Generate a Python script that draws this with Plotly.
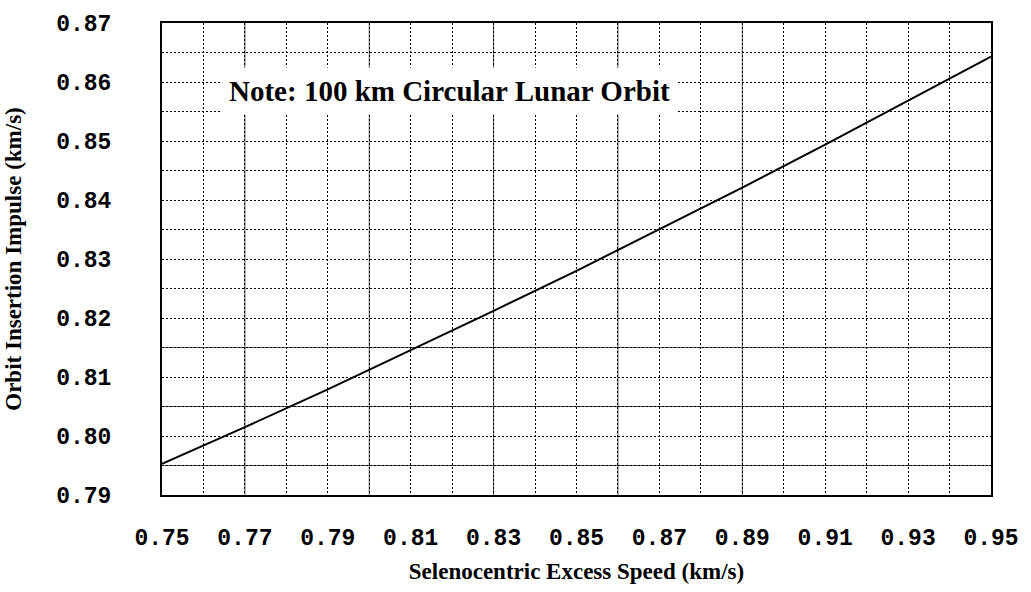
import plotly.graph_objects as go

# Data
speed = [0.75, 0.77, 0.79, 0.81, 0.83, 0.85, 0.87, 0.89, 0.91, 0.93, 0.95]
impulse = [0.7953, 0.8015, 0.8079, 0.8145, 0.8212, 0.8280, 0.8350, 0.8421, 0.8494, 0.8568, 0.8643]

x_ticks = [0.75, 0.77, 0.79, 0.81, 0.83, 0.85, 0.87, 0.89, 0.91, 0.93, 0.95]
x_labels = ["0.75", "0.77", "0.79", "0.81", "0.83", "0.85", "0.87", "0.89", "0.91", "0.93", "0.95"]
y_ticks = [0.79, 0.80, 0.81, 0.82, 0.83, 0.84, 0.85, 0.86, 0.87]
y_labels = ["0.79", "0.80", "0.81", "0.82", "0.83", "0.84", "0.85", "0.86", "0.87"]
x_grid = [round(0.75 + 0.01 * i, 2) for i in range(21)]
y_grid = [round(0.79 + 0.005 * i, 3) for i in range(17)]
solid_x = [0.77, 0.80, 0.83, 0.86, 0.89]
solid_y = [0.795, 0.805, 0.815]

note_text = "Note: 100 km Circular Lunar Orbit"
x_title = "Selenocentric Excess Speed (km/s)"
y_title = "Orbit Insertion Impulse (km/s)"

fig = go.Figure()
fig.add_trace(go.Scatter(x=speed, y=impulse, mode="lines",
                         line=dict(color="black", width=2), showlegend=False,
                         hoverinfo="skip"))

tick_font = dict(family="Liberation Mono", size=23, color="black", weight="bold")
title_font = dict(family="Liberation Serif", size=23, color="black", weight="bold")

fig.update_xaxes(
    range=[0.75, 0.95], tickmode="array", tickvals=x_ticks, ticktext=x_labels,
    tickfont=tick_font, ticks="", ticklabelstandoff=20,
    showgrid=True, gridcolor="black", gridwidth=1, griddash="2px,2px",
    minor=dict(tickvals=x_grid, showgrid=True, gridcolor="black", gridwidth=1,
               griddash="2px,2px", ticks=""),
    showline=True, linecolor="black", linewidth=2, mirror=True, zeroline=False,
    title=dict(text=x_title, font=title_font, standoff=12),
)
fig.update_yaxes(
    range=[0.79, 0.87], tickmode="array", tickvals=y_ticks, ticktext=y_labels,
    tickfont=tick_font, ticks="", ticklabelstandoff=44,
    showgrid=True, gridcolor="black", gridwidth=1, griddash="2px,2px",
    minor=dict(tickvals=y_grid, showgrid=True, gridcolor="black", gridwidth=1,
               griddash="2px,2px", ticks=""),
    showline=True, linecolor="black", linewidth=2, mirror=True, zeroline=False,
    title=dict(text=y_title, font=title_font, standoff=28),
)

shapes = []
for xv in solid_x:
    shapes.append(dict(type="line", xref="x", yref="paper", x0=xv, x1=xv, y0=0, y1=1,
                       line=dict(color="#555", width=1), layer="below"))
for yv in solid_y:
    shapes.append(dict(type="line", xref="paper", yref="y", x0=0, x1=1, y0=yv, y1=yv,
                       line=dict(color="#555", width=1), layer="below"))

fig.update_layout(
    width=1031, height=592,
    margin=dict(l=162, r=34, t=15, b=89),
    paper_bgcolor="white", plot_bgcolor="white",
    shapes=shapes,
    annotations=[dict(x=0.8194, y=0.8585, xref="x", yref="y", text=note_text,
                      showarrow=False, bgcolor="white", borderpad=7,
                      font=dict(family="Liberation Serif", size=29, color="black",
                                weight="bold"))],
)

fig.write_html("out.html", config={"displayModeBar": False},
               post_script="document.body.style.margin='0';")
